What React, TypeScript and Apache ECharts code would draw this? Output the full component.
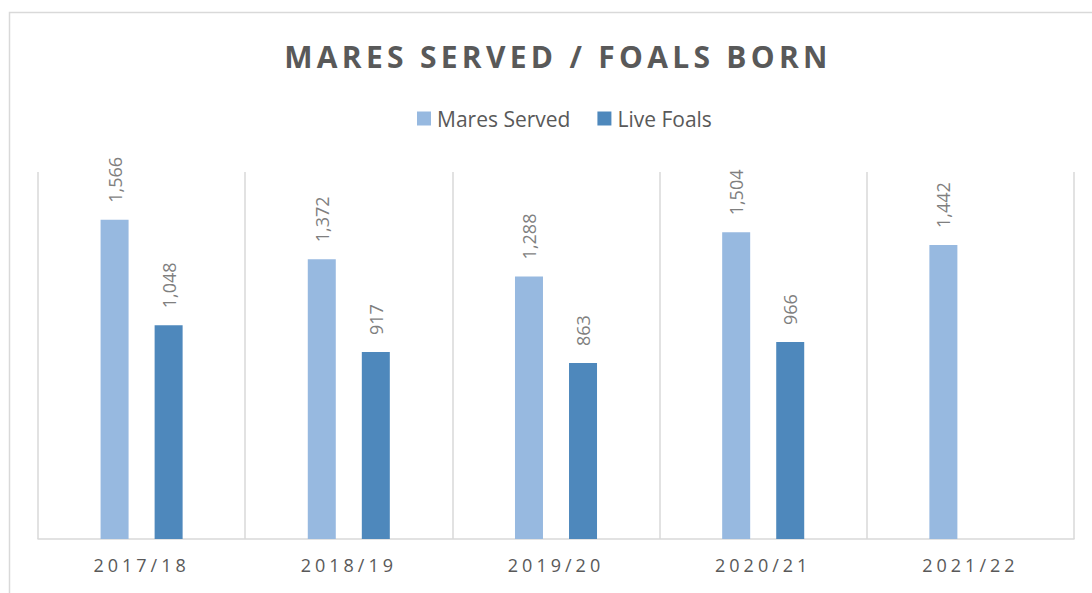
import React, { useEffect, useRef } from "react";
import * as echarts from "echarts";

const titleText = "MARES SERVED / FOALS BORN";
const categories = ["2017/18", "2018/19", "2019/20", "2020/21", "2021/22"];
const seriesNames = ["Mares Served", "Live Foals"];
const maresServed = [1566, 1372, 1288, 1504, 1442];
const liveFoals: (number | null)[] = [1048, 917, 863, 966, null];

const FONT = "'Open Sans', 'Noto Sans', sans-serif";

export default function App() {
  const ref = useRef<HTMLDivElement>(null);
  useEffect(() => {
    if (!ref.current) return;
    const chart = echarts.init(ref.current, null, { renderer: "svg" });
    const labelFmt = (p: any) =>
      p.value == null ? "" : Number(p.value).toLocaleString("en-US");
    chart.setOption({
      animation: false,
      backgroundColor: "#ffffff",
      textStyle: { fontFamily: FONT },
      title: {
        text: titleText,
        left: 553,
        textAlign: "center",
        top: 36,
        textStyle: {
          fontFamily: FONT,
          fontSize: 30,
          fontWeight: "bold",
          color: "#595959",
        },
      },
      legend: {
        data: seriesNames,
        top: 103,
        left: 412,
        icon: "rect",
        itemWidth: 14,
        itemHeight: 14,
        itemGap: 27,
        textStyle: { fontFamily: FONT, fontSize: 21, color: "#595959", padding: [0, 0, 0, 1] },
      },
      graphic: [
        {
          type: "rect",
          shape: { x: 9.5, y: 12.5, width: 1300, height: 800 },
          style: { fill: "none", stroke: "#d9d9d9", lineWidth: 1.5 },
          silent: true,
        },
      ],
      grid: { left: 38, right: 18, top: 172, bottom: 54, containLabel: false },
      xAxis: {
        type: "category",
        data: categories,
        axisLine: { lineStyle: { color: "#d9d9d9", width: 1.5 } },
        axisTick: { show: false },
        axisLabel: {
          fontFamily: FONT,
          fontSize: 18,
          color: "#595959",
          margin: 17,
        },
        splitLine: { show: true, lineStyle: { color: "#d9d9d9", width: 1.5 } },
      },
      yAxis: {
        type: "value",
        min: 0,
        max: 1800,
        show: false,
        splitLine: { show: false },
      },
      series: [
        {
          name: seriesNames[0],
          type: "bar",
          data: maresServed,
          barWidth: 28,
          barGap: "93%",
          itemStyle: { color: "#97B9E0" },
          label: {
            show: true,
            position: "top",
            rotate: 90,
            align: "left",
            verticalAlign: "middle",
            distance: 17,
            fontFamily: FONT,
            fontSize: 18,
            color: "#7f7f7f",
            formatter: labelFmt,
          },
        },
        {
          name: seriesNames[1],
          type: "bar",
          data: liveFoals,
          barWidth: 28,
          itemStyle: { color: "#4E88BC" },
          label: {
            show: true,
            position: "top",
            rotate: 90,
            align: "left",
            verticalAlign: "middle",
            distance: 17,
            fontFamily: FONT,
            fontSize: 18,
            color: "#7f7f7f",
            formatter: labelFmt,
          },
        },
      ],
    });
    const applySpacing = () => {
      const texts = ref.current?.querySelectorAll("text") || [];
      texts.forEach((t: any) => {
        const c = (t.textContent || "").trim();
        if (c === titleText) t.setAttribute("letter-spacing", "4.3");
        else if (categories.includes(c)) t.setAttribute("letter-spacing", "4");
      });
    };
    applySpacing();
    chart.on("finished", applySpacing);
    return () => chart.dispose();
  }, []);
  return (
    <div
      ref={ref}
      style={{ position: "fixed", left: 0, top: 0, width: 1092, height: 593 }}
    />
  );
}
